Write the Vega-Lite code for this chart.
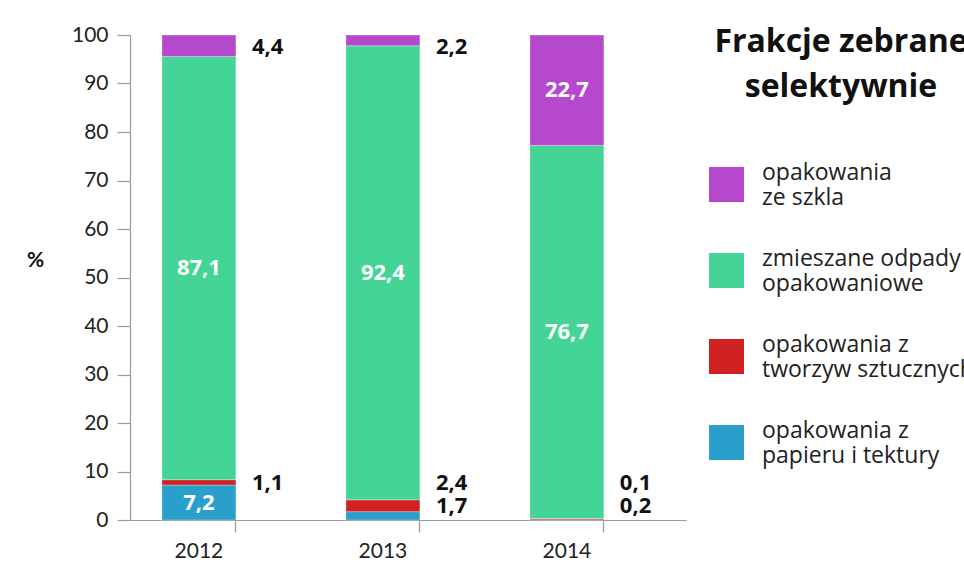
{
  "$schema": "https://vega.github.io/schema/vega-lite/v6.json",
  "width": 556,
  "height": 485,
  "autosize": {"type": "none"},
  "padding": {"left": 130, "top": 35, "right": 278, "bottom": 42},
  "background": "white",
  "config": {
    "font": "Lato",
    "view": {"stroke": null},
    "locale": {"number": {"decimal": ",", "thousands": " ", "grouping": [3], "currency": ["", " zł"]}}
  },
  "data": {
    "values": [
      {"year": "2012", "cat": "opakowania\nze szkla", "kolejnosc": 4, "value": 4.4},
      {"year": "2012", "cat": "zmieszane odpady\nopakowaniowe", "kolejnosc": 3, "value": 87.1},
      {"year": "2012", "cat": "opakowania z\ntworzyw sztucznych", "kolejnosc": 2, "value": 1.1},
      {"year": "2012", "cat": "opakowania z\npapieru i tektury", "kolejnosc": 1, "value": 7.2},
      {"year": "2013", "cat": "opakowania\nze szkla", "kolejnosc": 4, "value": 2.2},
      {"year": "2013", "cat": "zmieszane odpady\nopakowaniowe", "kolejnosc": 3, "value": 92.4},
      {"year": "2013", "cat": "opakowania z\ntworzyw sztucznych", "kolejnosc": 2, "value": 2.4},
      {"year": "2013", "cat": "opakowania z\npapieru i tektury", "kolejnosc": 1, "value": 1.7},
      {"year": "2014", "cat": "opakowania\nze szkla", "kolejnosc": 4, "value": 22.7},
      {"year": "2014", "cat": "zmieszane odpady\nopakowaniowe", "kolejnosc": 3, "value": 76.7},
      {"year": "2014", "cat": "opakowania z\ntworzyw sztucznych", "kolejnosc": 1, "value": 0.2},
      {"year": "2014", "cat": "opakowania z\npapieru i tektury", "kolejnosc": 2, "value": 0.1}
    ]
  },
  "transform": [
    {"stack": "value", "groupby": ["year"], "sort": [{"field": "kolejnosc", "order": "ascending"}], "offset": "normalize", "as": ["y0", "y1"]},
    {"calculate": "(datum.y0 + datum.y1) / 2", "as": "ymid"}
  ],
  "encoding": {
    "x": {
      "field": "year",
      "type": "ordinal",
      "scale": {"paddingInner": 0.598, "paddingOuter": 0.31, "align": 0.28},
      "axis": {
        "title": null,
        "labelAngle": 0,
        "bandPosition": 1,
        "labelFontSize": 21,
        "labelColor": "#222",
        "labelPadding": 8,
        "tickSize": 12,
        "tickColor": "#999",
        "domainColor": "#999",
        "tickWidth": 1.2,
        "domainWidth": 1.2
      }
    }
  },
  "layer": [
    {
      "mark": {"type": "bar", "stroke": "white", "strokeWidth": 0.5, "strokeOpacity": 0.6},
      "encoding": {
        "y": {
          "field": "y0",
          "type": "quantitative",
          "scale": {"domain": [0, 1], "nice": false},
          "axis": {
            "values": [0, 0.1, 0.2, 0.3, 0.4, 0.5, 0.6, 0.7, 0.8, 0.9, 1],
            "labelExpr": "format(datum.value * 100, 'd')",
            "grid": false,
            "title": "%",
            "titleAngle": 0,
            "titleAlign": "center",
            "titleBaseline": "middle",
            "titleX": -95,
            "titleY": 225,
            "titleFontSize": 21,
            "titleFontWeight": "bold",
            "titleColor": "#111",
            "labelFontSize": 21,
            "labelColor": "#222",
            "labelPadding": 9,
            "tickSize": 13,
            "tickColor": "#999",
            "domainColor": "#999",
            "tickWidth": 1.2,
            "domainWidth": 1.2
          }
        },
        "y2": {"field": "y1"},
        "color": {
          "field": "cat",
          "type": "nominal",
          "scale": {
            "domain": ["opakowania\nze szkla", "zmieszane odpady\nopakowaniowe", "opakowania z\ntworzyw sztucznych", "opakowania z\npapieru i tektury"],
            "range": ["#B548CD", "#44D596", "#D02223", "#2A9FCC"]
          },
          "legend": {
            "orient": "none",
            "legendX": 579,
            "legendY": -8,
            "padding": 0,
            "title": ["Frakcje zebrane", "selektywnie"],
            "titleFont": "Open Sans",
            "titleFontSize": 32,
            "titleFontWeight": "bold",
            "titleColor": "#111",
            "titleLineHeight": 45,
            "titleAlign": "center",
            "titleAnchor": "middle",
            "titlePadding": 63,
            "titleLimit": 800,
            "labelExpr": "split(datum.label, '\\n')",
            "labelFont": "Open Sans",
            "labelFontSize": 23,
            "labelLineHeight": 30,
            "labelBaseline": "bottom",
            "labelColor": "#222",
            "labelOffset": 18,
            "labelLimit": 400,
            "symbolType": "square",
            "symbolSize": 1225,
            "symbolStrokeWidth": 0,
            "symbolOpacity": 1,
            "rowPadding": 37
          }
        },
        "order": {"field": "kolejnosc", "type": "quantitative"}
      }
    },
    {
      "transform": [{"filter": "datum.value >= 5"}],
      "mark": {"type": "text", "font": "Open Sans", "fontSize": 22, "fontWeight": "bold", "color": "white", "baseline": "middle", "align": "center"},
      "encoding": {
        "y": {"field": "ymid", "type": "quantitative"},
        "text": {"field": "value", "type": "quantitative", "format": ".1f"}
      }
    },
    {
      "transform": [{"filter": "datum.value < 5 && datum.kolejnosc == 4"}],
      "mark": {"type": "text", "font": "Open Sans", "fontSize": 22, "fontWeight": "bold", "color": "#111", "baseline": "top", "align": "left", "dx": 16, "dy": 2},
      "encoding": {
        "x": {"field": "year", "type": "ordinal", "bandPosition": 1},
        "y": {"field": "y1", "type": "quantitative"},
        "text": {"field": "value", "type": "quantitative", "format": ".1f"}
      }
    },
    {
      "transform": [{"filter": "datum.value < 5 && datum.kolejnosc == 1"}],
      "mark": {"type": "text", "font": "Open Sans", "fontSize": 22, "fontWeight": "bold", "color": "#111", "baseline": "middle", "align": "left", "dx": 16, "dy": -14},
      "encoding": {
        "x": {"field": "year", "type": "ordinal", "bandPosition": 1},
        "y": {"field": "y0", "type": "quantitative"},
        "text": {"field": "value", "type": "quantitative", "format": ".1f"}
      }
    },
    {
      "transform": [{"filter": "datum.value < 5 && datum.kolejnosc == 2"}],
      "mark": {"type": "text", "font": "Open Sans", "fontSize": 22, "fontWeight": "bold", "color": "#111", "baseline": "middle", "align": "left", "dx": 16, "dy": -37},
      "encoding": {
        "x": {"field": "year", "type": "ordinal", "bandPosition": 1},
        "y": {"datum": 0, "type": "quantitative"},
        "text": {"field": "value", "type": "quantitative", "format": ".1f"}
      }
    }
  ]
}
